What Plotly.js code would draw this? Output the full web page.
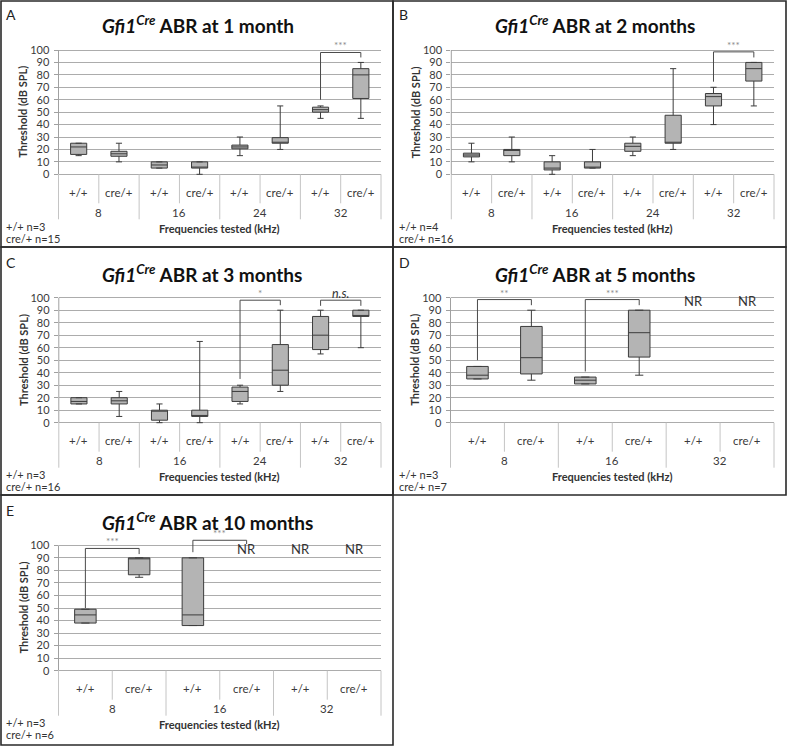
<!DOCTYPE html>
<html>
<head>
<meta charset="utf-8">
<script src="https://cdn.plot.ly/plotly-3.0.1.min.js"></script>
<style>
  html, body { margin: 0; padding: 0; background: #fff; }
  #chart { width: 787px; height: 747px; }
</style>
</head>
<body>
<div id="chart"></div>
<script>
// === Datos (umbral ABR, dB SPL) ===
const genotypes = ["+/+", "cre/+"];
const freqs4 = ["8", "16", "24", "32"];
const freqs3 = ["8", "16", "32"];

// cada fila: [mínimo, Q1, mediana, Q3, máximo]; null = NR (sin respuesta)
const abr1m = [
  [15, 16, 22, 25, 25], [10, 14.5, 16.5, 18.5, 25],
  [5, 5, 7.5, 10, 10], [0, 5, 5, 10, 10],
  [15, 20.5, 22, 23.5, 30], [20, 25, 25, 29.5, 55],
  [45, 50, 52, 54, 55], [45, 61, 80, 85, 90]
];
const abr2m = [
  [10, 14, 15.5, 17, 25], [10, 15, 20, 20, 30],
  [0, 3.5, 5, 10, 15], [5, 5, 5, 10, 20],
  [15, 18.5, 22.5, 25, 30], [20, 25, 25, 47.5, 85],
  [40, 55, 62.5, 65, 70], [55, 75, 85, 90, 90]
];
const abr3m = [
  [15, 15, 17, 20, 20], [5, 15, 17.5, 20, 25],
  [0, 2, 10, 10, 15], [0, 5, 5, 10, 65],
  [15, 17, 25, 28.5, 30], [25, 30, 42, 62.5, 90],
  [55, 58.5, 70, 85, 90], [60, 85, 85, 90, 90]
];
const abr5m = [
  [35, 35, 38, 45, 45], [34, 39, 52, 77, 90],
  [31, 31, 34, 36.5, 36.5], [38, 52.5, 72, 90, 90],
  null, null
];
const abr10m = [
  [38, 38, 44.5, 49, 49], [74.5, 76.5, 90, 90, 90],
  [36, 36, 44.5, 90, 90], null,
  null, null
];

// significancia: columnas unidas y alturas del corchete
const sig1m = [{ from: 6, to: 7, yFrom: 60, yTop: 98, yTo: 94, label: "***" }];
const sig2m = [{ from: 6, to: 7, yFrom: 74.5, yTop: 98.5, yTo: 94, label: "***" }];
const sig3m = [
  { from: 4, to: 5, yFrom: 35, yTop: 98, yTo: 94, label: "*" },
  { from: 6, to: 7, yFrom: 93.5, yTop: 98, yTo: 93.5, label: "<i>n.s.</i>" }
];
const sig5m = [
  { from: 0, to: 1, yFrom: 50, yTop: 98.5, yTo: 94, label: "**" },
  { from: 2, to: 3, yFrom: 41, yTop: 98.5, yTo: 94, label: "***" }
];
const sig10m = [
  { from: 0, to: 1, yFrom: 50, yTop: 97.5, yTo: 93, label: "***" },
  { from: 2, to: 3, yFrom: 94.5, yTop: 104, yTo: 101, label: "***" }
];

const panelLetters = ["A", "B", "C", "D", "E"];
const ages = ["1 month", "2 months", "3 months", "5 months", "10 months"];
const nWt = [3, 4, 3, 3, 3];
const nCre = [15, 16, 16, 7, 6];

// === Geometría de la figura (px) ===
const W = 787, H = 747;
const FONT = "Lato, 'Open Sans', sans-serif";
const panels = [
  { freqs: freqs4, data: abr1m, sig: sig1m, left: 0, top: 0, axisX: 58.5, rightX: 381, zeroY: 174.3, k: 1.243 },
  { freqs: freqs4, data: abr2m, sig: sig2m, left: 393, top: 0, axisX: 451.3, rightX: 774, zeroY: 174.3, k: 1.243 },
  { freqs: freqs4, data: abr3m, sig: sig3m, left: 0, top: 247, axisX: 58.8, rightX: 381, zeroY: 422.7, k: 1.25 },
  { freqs: freqs3, data: abr5m, sig: sig5m, left: 393, top: 247, axisX: 450.5, rightX: 774, zeroY: 422.7, k: 1.25 },
  { freqs: freqs3, data: abr10m, sig: sig10m, left: 0, top: 495, axisX: 58.5, rightX: 381, zeroY: 670.7, k: 1.254 }
];
const yMin = -48, yMax = 120;

const traces = [];
const shapes = [];
const annotations = [];
const layout = {
  width: W, height: H,
  margin: { l: 0, r: 0, t: 0, b: 0 },
  paper_bgcolor: "#fff", plot_bgcolor: "rgba(0,0,0,0)",
  font: { family: FONT, size: 11, color: "#3a3a3a" },
  showlegend: false
};

panels.forEach((p, idx) => {
  const n = idx + 1;
  const xa = n === 1 ? "x" : "x" + n;
  const ya = n === 1 ? "y" : "y" + n;
  const nCat = p.freqs.length * genotypes.length;

  // === Ejes ===
  layout[n === 1 ? "xaxis" : "xaxis" + n] = {
    domain: [p.axisX / W, p.rightX / W],
    range: [-0.5, nCat - 0.5],
    anchor: ya, showticklabels: false, showgrid: false, zeroline: false,
    ticks: "", showline: false, fixedrange: true
  };
  layout[n === 1 ? "yaxis" : "yaxis" + n] = {
    domain: [1 - (p.zeroY - yMin * p.k) / H, 1 - (p.zeroY - yMax * p.k) / H],
    range: [yMin, yMax],
    anchor: xa,
    tickmode: "array",
    tickvals: [0, 10, 20, 30, 40, 50, 60, 70, 80, 90, 100],
    ticks: "outside", ticklen: 4, tickcolor: "#a0a0a0",
    ticklabelstandoff: 2,
    tickfont: { size: 11, color: "#3a3a3a" },
    showgrid: true, gridcolor: "#acacac", gridwidth: 1,
    zeroline: false, showline: false, fixedrange: true
  };

  // línea del eje vertical
  shapes.push({ type: "line", xref: xa + " domain", yref: ya, x0: 0, x1: 0, y0: 0, y1: 100,
    line: { color: "#a0a0a0", width: 1 } });
  // separadores de categorías
  for (let i = 0; i <= nCat; i++) {
    const isGroup = i % 2 === 0;
    shapes.push({ type: "line", xref: xa + " domain", yref: ya, x0: i / nCat, x1: i / nCat,
      y0: 0, y1: -(isGroup ? 45 : 29) / p.k,
      line: { color: "#c4c4c4", width: 1 } });
  }

  // etiquetas de categorías
  p.freqs.forEach((f, gi) => {
    genotypes.forEach((g, si) => {
      annotations.push({ xref: xa, yref: ya, x: gi * 2 + si, y: 0, yshift: -18,
        text: g, showarrow: false, font: { size: 11.5, color: "#3a3a3a" } });
    });
    annotations.push({ xref: xa, yref: ya, x: gi * 2 + 0.5, y: 0, yshift: -38,
      text: f, showarrow: false, font: { size: 11.5, color: "#3a3a3a" } });
  });

  // títulos de ejes
  annotations.push({ xref: xa + " domain", yref: ya, x: 0.5, xanchor: "center", y: 0, yshift: -54,
    text: "<b>Frequencies tested (kHz)</b>", showarrow: false, font: { size: 11, color: "#333" } });
  annotations.push({ xref: xa + " domain", yref: ya, x: 0, xanchor: "center", yanchor: "middle",
    y: 50, xshift: -36, textangle: -90,
    text: "<b>Threshold (dB SPL)</b>", showarrow: false, font: { size: 11, color: "#333" } });

  // === Cajas ===
  const pos = [], lo = [], q1 = [], med = [], q3 = [], hi = [];
  p.data.forEach((row, i) => {
    if (!row) {
      annotations.push({ xref: xa, yref: ya, x: i, y: 90, yanchor: "bottom", yshift: -1,
        text: "NR", showarrow: false, font: { size: 13, color: "#333" } });
      return;
    }
    pos.push(i); lo.push(row[0]); q1.push(row[1]); med.push(row[2]); q3.push(row[3]); hi.push(row[4]);
  });
  traces.push({
    type: "box", xaxis: xa, yaxis: ya,
    x: pos, lowerfence: lo, q1: q1, median: med, q3: q3, upperfence: hi,
    width: 0.4, whiskerwidth: 0.38, boxpoints: false,
    fillcolor: "#b4b4b4", line: { color: "#3c3c3c", width: 1 },
    hoverinfo: "skip", showlegend: false
  });

  // === Corchetes de significancia ===
  p.sig.forEach(s => {
    shapes.push({ type: "path", xref: xa, yref: ya,
      path: `M ${s.from},${s.yFrom} L ${s.from},${s.yTop} L ${s.to},${s.yTop} L ${s.to},${s.yTo}`,
      line: { color: "#4a4a4a", width: 1 } });
    const isStar = s.label.indexOf("*") >= 0;
    annotations.push({ xref: xa, yref: ya, x: (s.from + s.to) / 2, y: s.yTop, yshift: 7,
      text: s.label, showarrow: false,
      font: { size: isStar ? 10 : 12.5, color: isStar ? "#8a8a8a" : "#333" } });
  });

  // === Título, letra y n ===
  annotations.push({ xref: "paper", yref: "paper", x: (p.left + 100) / W, xanchor: "left",
    y: 1 - (p.zeroY - 149.5) / H, yanchor: "middle",
    text: `<b><i>Gfi1</i><sup><i>Cre</i></sup> ABR at ${ages[idx]}</b>`,
    showarrow: false, font: { size: 19, color: "#111" } });
  annotations.push({ xref: "paper", yref: "paper", x: (p.left + 4) / W, xanchor: "left",
    y: 1 - (p.zeroY - 160) / H, yanchor: "middle",
    text: panelLetters[idx], showarrow: false, font: { size: 14, color: "#222" } });
  annotations.push({ xref: "paper", yref: ya, x: (p.left + 4) / W, xanchor: "left",
    y: 0, yshift: -52, text: `+/+ n=${nWt[idx]}`, showarrow: false,
    font: { size: 11, color: "#333" } });
  annotations.push({ xref: "paper", yref: ya, x: (p.left + 4) / W, xanchor: "left",
    y: 0, yshift: -64, text: `cre/+ n=${nCre[idx]}`, showarrow: false,
    font: { size: 11, color: "#333" } });
});

// === Marcos de los paneles ===
const frame = { color: "#2a2a2a", width: 1.6 };
[[1, 1, 393, 247], [393, 1, 786, 247], [1, 247, 393, 495], [393, 247, 786, 495], [1, 495, 393, 745]]
  .forEach(r => shapes.push({ type: "rect", xref: "paper", yref: "paper",
    x0: r[0] / W, x1: r[2] / W, y0: 1 - r[3] / H, y1: 1 - r[1] / H, line: frame }));

layout.shapes = shapes;
layout.annotations = annotations;

Plotly.newPlot("chart", traces, layout, { displayModeBar: false, staticPlot: true });
</script>
</body>
</html>
